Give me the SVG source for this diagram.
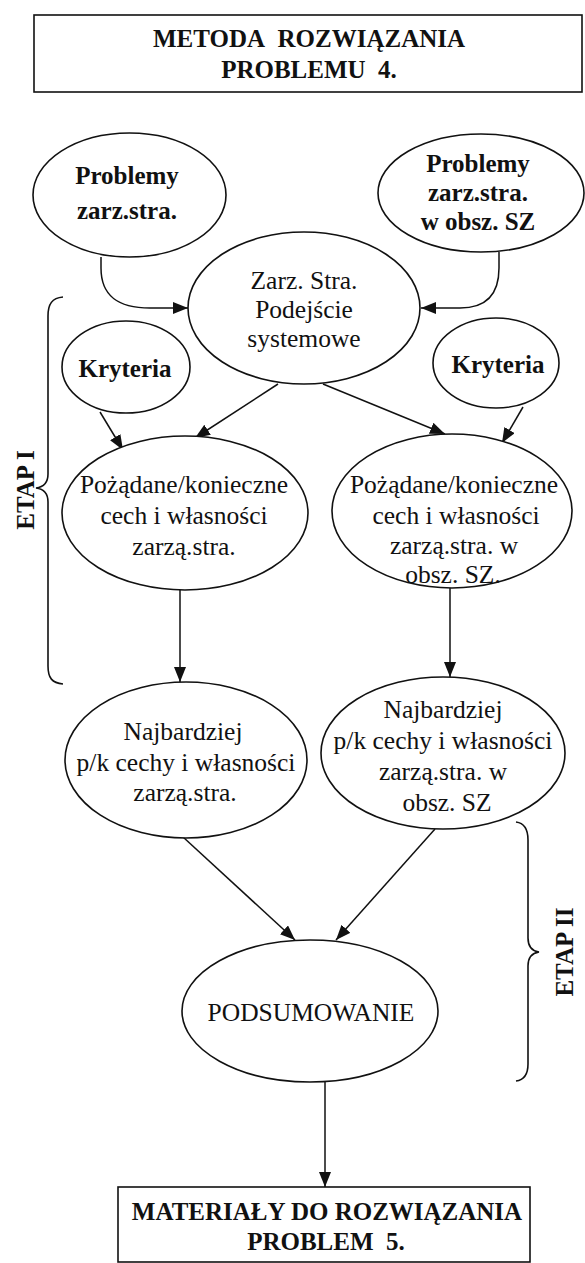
<svg xmlns="http://www.w3.org/2000/svg" width="585" height="1263" viewBox="0 0 585 1263">
  <style>
    .shape { fill: #fff; stroke: #111; stroke-width: 1.6; }
    .edge { fill: none; stroke: #111; stroke-width: 1.5; }
    .brace { fill: none; stroke: #111; stroke-width: 1.6; }
    text { font-family: "Liberation Serif", "Times New Roman", serif; fill: #111; text-anchor: middle; }
    .b { font-weight: bold; font-size: 25px; }
    .r { font-size: 25.5px; }
    .t { font-weight: bold; font-size: 25px; }
  </style>
  <defs>
    <marker id="arrow" viewBox="0 0 15 12" refX="15" refY="6" markerWidth="15" markerHeight="12" markerUnits="userSpaceOnUse" orient="auto">
      <path d="M0,0 L15,6 L0,12 Z" fill="#111"/>
    </marker>
  </defs>
  <rect width="585" height="1263" fill="#fff"/>

  <!-- connectors -->
  <g id="connectors">
    <path class="edge" d="M101,257 L101,268 C101,296 118,308 150,308 L188,308" marker-end="url(#arrow)"/>
    <path class="edge" d="M499,252 L499,268 C499,296 484,308 460,308 L421,308" marker-end="url(#arrow)"/>
    <path class="edge" d="M278,384 L195,438" marker-end="url(#arrow)"/>
    <path class="edge" d="M323,384 L445,434" marker-end="url(#arrow)"/>
    <path class="edge" d="M100,412 L123,450" marker-end="url(#arrow)"/>
    <path class="edge" d="M523,407 L502,443" marker-end="url(#arrow)"/>
    <path class="edge" d="M180,590 L180,682" marker-end="url(#arrow)"/>
    <path class="edge" d="M450,588 L450,677" marker-end="url(#arrow)"/>
    <path class="edge" d="M183,837 L295,940" marker-end="url(#arrow)"/>
    <path class="edge" d="M435,829 L336,940" marker-end="url(#arrow)"/>
    <path class="edge" d="M325,1082 L325,1187" marker-end="url(#arrow)"/>
  </g>

  <!-- header box -->
  <g id="title">
    <rect class="shape" x="34" y="15" width="548" height="77"/>
    <text class="t" x="309" y="47" font-size="24.5">METODA&#160; ROZWIĄZANIA</text>
    <text class="t" x="309" y="78">PROBLEMU&#160; 4.</text>
  </g>

  <g id="problemy-left">
    <ellipse class="shape" cx="129.5" cy="195" rx="96.5" ry="62"/>
    <text class="b" x="127" y="184">Problemy</text>
    <text class="b" x="127" y="219">zarz.stra.</text>
  </g>

  <g id="problemy-right">
    <ellipse class="shape" cx="481" cy="193" rx="103" ry="59"/>
    <text class="b" x="478" y="172">Problemy</text>
    <text class="b" x="478" y="201">zarz.stra.</text>
    <text class="b" x="478" y="230">w obsz. SZ</text>
  </g>

  <g id="podejscie">
    <ellipse class="shape" cx="304" cy="308" rx="116" ry="76"/>
    <text class="r" x="304" y="289">Zarz. Stra.</text>
    <text class="r" x="304" y="318">Podejście</text>
    <text class="r" x="304" y="347">systemowe</text>
  </g>

  <g id="kryteria-left">
    <ellipse class="shape" cx="126" cy="367" rx="64" ry="46"/>
    <text class="b" x="125" y="377">Kryteria</text>
  </g>

  <g id="kryteria-right">
    <ellipse class="shape" cx="496" cy="363" rx="63" ry="45"/>
    <text class="b" x="498" y="373">Kryteria</text>
  </g>

  <g id="pozadane-left">
    <ellipse class="shape" cx="185" cy="513" rx="123" ry="77"/>
    <text class="r" x="184" y="493">Pożądane/konieczne</text>
    <text class="r" x="184" y="524">cech i własności</text>
    <text class="r" x="184" y="555">zarzą.stra.</text>
  </g>

  <g id="pozadane-right">
    <ellipse class="shape" cx="452" cy="511" rx="120" ry="77"/>
    <text class="r" x="454" y="493">Pożądane/konieczne</text>
    <text class="r" x="456" y="524">cech i własności</text>
    <text class="r" x="454" y="554">zarzą.stra. w</text>
    <text class="r" x="453" y="583">obsz. SZ.</text>
  </g>

  <g id="najbardziej-left">
    <ellipse class="shape" cx="186" cy="760" rx="121" ry="78"/>
    <text class="r" x="183" y="740">Najbardziej</text>
    <text class="r" x="186" y="771">p/k cechy i własności</text>
    <text class="r" x="185" y="801">zarzą.stra.</text>
  </g>

  <g id="najbardziej-right">
    <ellipse class="shape" cx="443" cy="753" rx="122" ry="76"/>
    <text class="r" x="443" y="718">Najbardziej</text>
    <text class="r" x="443" y="749">p/k cechy i własności</text>
    <text class="r" x="443" y="780">zarzą.stra. w</text>
    <text class="r" x="447" y="811">obsz. SZ</text>
  </g>

  <g id="podsumowanie">
    <ellipse class="shape" cx="310" cy="1011" rx="128" ry="71"/>
    <text class="r" x="311" y="1021" font-size="24.5">PODSUMOWANIE</text>
  </g>

  <g id="materialy">
    <rect class="shape" x="118" y="1187" width="412" height="75"/>
    <text class="t" x="327" y="1220" font-size="25.5">MATERIAŁY DO ROZWIĄZANIA</text>
    <text class="t" x="326" y="1250" font-size="25.5">PROBLEM&#160; 5.</text>
  </g>

  <!-- stage braces -->
  <g id="etap-1">
    <path class="brace" d="M63,297 C52,298 48,304 48,316 L48,474 C48,483 44,487 36,488 C44,489 48,493 48,502 L48,666 C48,678 52,683 63,684"/>
    <text class="b" font-size="24" transform="translate(34,490) rotate(-90)">ETAP I</text>
  </g>

  <g id="etap-2">
    <path class="brace" d="M516,822 C524,823 528,829 528,840 L528,938 C528,947 532,951 539,952 C532,953 528,957 528,966 L528,1064 C528,1075 524,1080 516,1081"/>
    <text class="b" font-size="24" transform="translate(573,952) rotate(-90)">ETAP II</text>
  </g>
</svg>
